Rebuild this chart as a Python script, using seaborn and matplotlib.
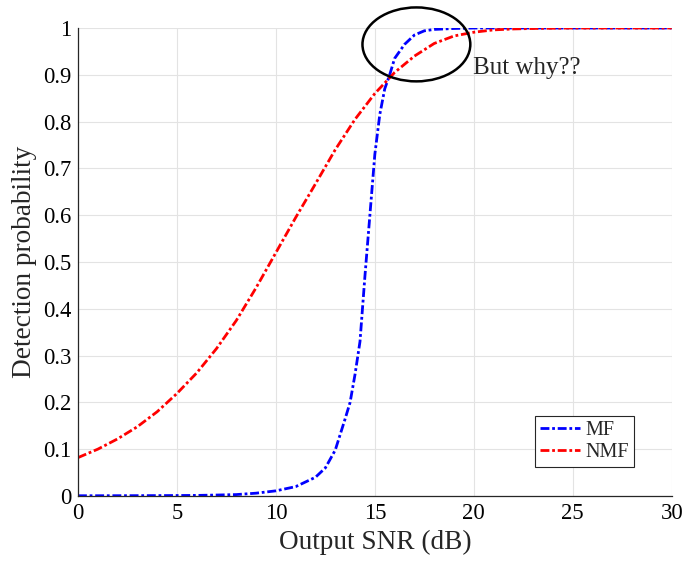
import numpy as np
import pandas as pd
import seaborn as sns
import matplotlib
matplotlib.use("Agg")
import matplotlib.pyplot as plt
from matplotlib.patches import Ellipse

# ---- data ----
mf_snr = [0, 2, 4, 6, 7, 8, 9, 10, 11, 12, 12.5, 13, 13.5, 13.75, 14, 14.25,
          14.5, 14.75, 15, 15.25, 15.5, 15.75, 16, 16.5, 17, 17.5, 18, 19, 20, 22, 25, 30]
mf_pd = [0.0005, 0.0006, 0.0008, 0.0012, 0.002, 0.003, 0.006, 0.011, 0.02, 0.04,
         0.06, 0.098, 0.165, 0.2, 0.26, 0.33, 0.47, 0.6, 0.73, 0.815, 0.87, 0.9,
         0.935, 0.965, 0.985, 0.994, 0.997, 0.999, 1.0, 1.0, 1.0, 1.0]

nmf_snr = [0, 1, 2, 3, 4, 5, 6, 7, 8, 9, 10, 11, 12, 13, 14, 15, 16, 17, 18, 19,
           20, 21, 22, 23, 25, 30]
nmf_pd = [0.082, 0.1, 0.122, 0.148, 0.18, 0.219, 0.263, 0.315, 0.375, 0.445, 0.52,
          0.595, 0.667, 0.74, 0.805, 0.86, 0.905, 0.94, 0.967, 0.983, 0.991,
          0.996, 0.998, 0.999, 1.0, 1.0]

series_names = ["MF", "NMF"]
series_colors = ["#0000ff", "#ff0000"]
x_ticks = [0, 5, 10, 15, 20, 25, 30]
y_ticks = [0, 0.1, 0.2, 0.3, 0.4, 0.5, 0.6, 0.7, 0.8, 0.9, 1]
y_tick_labels = ["0", "0.1", "0.2", "0.3", "0.4", "0.5", "0.6", "0.7", "0.8", "0.9", "1"]
annotation_text = "But why??"

df = pd.concat([
    pd.DataFrame({"snr": mf_snr, "pd": mf_pd, "curve": series_names[0]}),
    pd.DataFrame({"snr": nmf_snr, "pd": nmf_pd, "curve": series_names[1]}),
], ignore_index=True)

sns.set_style("whitegrid")
plt.rcParams["font.family"] = ["Liberation Serif", "DejaVu Serif"]
plt.rcParams["mathtext.fontset"] = "stix"

fig = plt.figure(figsize=(6.84, 5.66), dpi=100)
ax = fig.add_axes([0.114, 0.1237, 0.868, 0.8268])

sns.lineplot(data=df, x="snr", y="pd", hue="curve", hue_order=series_names,
             palette=dict(zip(series_names, series_colors)), ax=ax,
             linewidth=2.0, estimator=None, sort=True, legend=True)
dash_pattern = [3.2, 1.0, 1.0, 1.0]
for line in ax.get_lines():
    line.set_dashes(dash_pattern)

ax.set_xlim(0, 30)
ax.set_ylim(0, 1)
ax.set_xticks(x_ticks)
ax.set_xticklabels([str(t) for t in x_ticks])
ax.set_yticks(y_ticks)
ax.set_yticklabels(y_tick_labels)
ax.tick_params(axis="both", direction="in", length=4, width=0.8, colors="#262626",
               labelsize=16.3, labelcolor="black", pad=5)
ax.grid(True, color="#e3e3e3", linewidth=0.8)
for s in ["top", "right"]:
    ax.spines[s].set_visible(False)
for s in ["left", "bottom"]:
    ax.spines[s].set_color("#262626")
    ax.spines[s].set_linewidth(0.9)

ax.set_xlabel("Output SNR (dB)", fontsize=19.6, labelpad=4)
ax.set_ylabel("Detection probability", fontsize=19.6, labelpad=4)

ell = Ellipse((17.1, 0.965), width=5.45, height=0.158, fill=False,
              edgecolor="black", linewidth=1.8, clip_on=False, zorder=5)
ax.add_patch(ell)
ax.text(19.95, 0.915, annotation_text, fontsize=18, ha="left", va="center")

handles, labels = ax.get_legend_handles_labels()
for h in handles:
    h.set_dashes(dash_pattern)
leg = ax.legend(handles, labels, loc="lower right", bbox_to_anchor=(0.936, 0.062),
                fontsize=14.5, frameon=True, fancybox=False, framealpha=1,
                edgecolor="#262626", handlelength=2.0, handletextpad=0.25,
                borderpad=0.25, labelspacing=0.15, borderaxespad=0)
leg.get_frame().set_linewidth(0.8)

fig.savefig("out.png", dpi=100)
